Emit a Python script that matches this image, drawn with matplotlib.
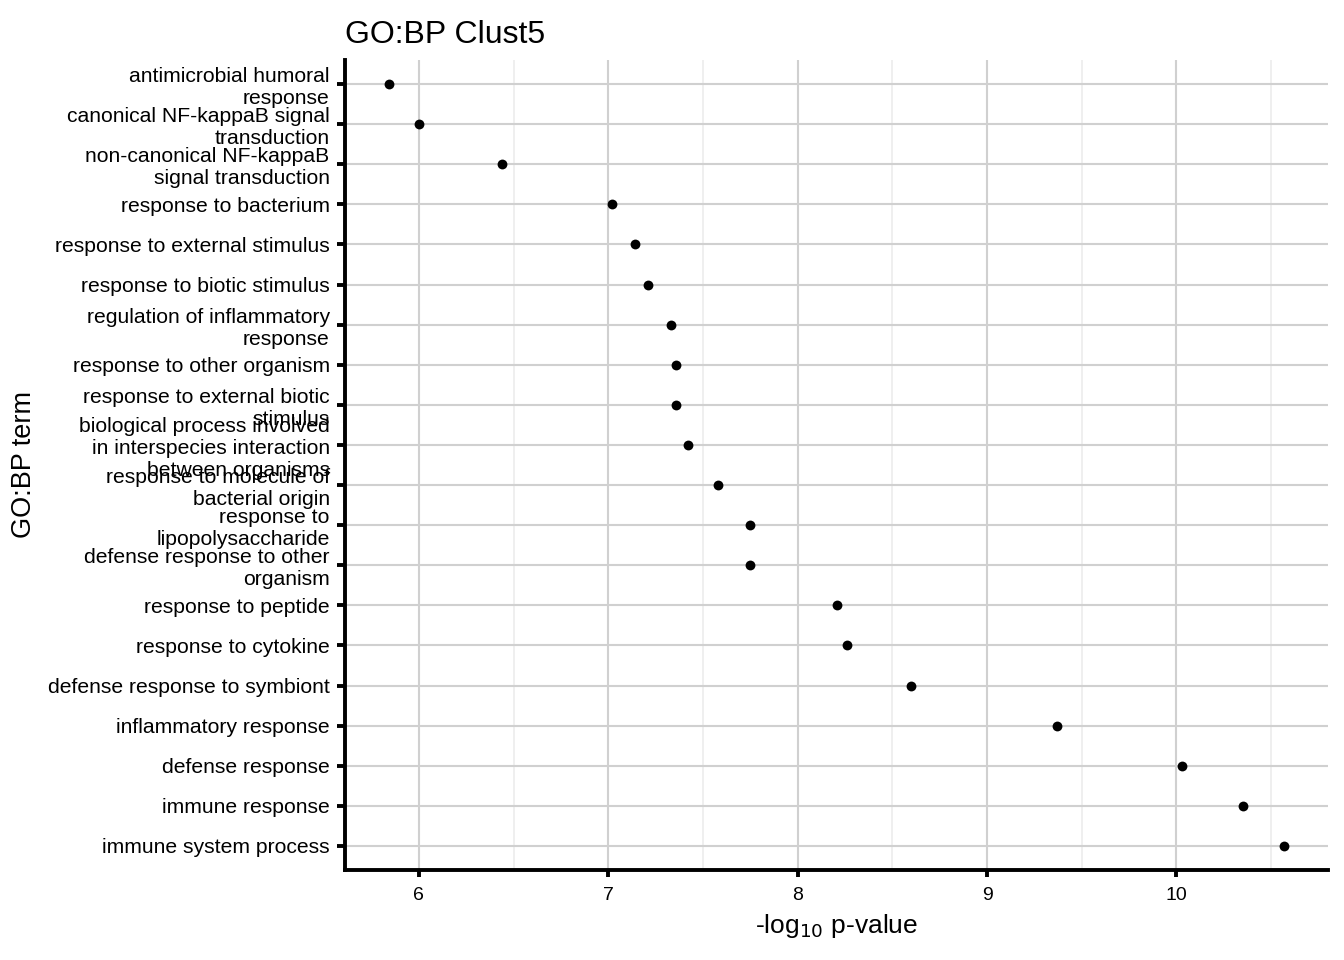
import textwrap
import matplotlib
matplotlib.use("Agg")
import matplotlib.pyplot as plt

plt.rcParams['font.family'] = ['Liberation Sans', 'DejaVu Sans']

# terms top to bottom as shown
terms = [
    "antimicrobial humoral response",
    "canonical NF-kappaB signal transduction",
    "non-canonical NF-kappaB signal transduction",
    "response to bacterium",
    "response to external stimulus",
    "response to biotic stimulus",
    "regulation of inflammatory response",
    "response to other organism",
    "response to external biotic stimulus",
    "biological process involved in interspecies interaction between organisms",
    "response to molecule of bacterial origin",
    "response to lipopolysaccharide",
    "defense response to other organism",
    "response to peptide",
    "response to cytokine",
    "defense response to symbiont",
    "inflammatory response",
    "defense response",
    "immune response",
    "immune system process",
]
neglog_p = [5.84, 6.00, 6.44, 7.02, 7.14, 7.21, 7.33, 7.36, 7.36, 7.42,
            7.58, 7.75, 7.75, 8.21, 8.26, 8.60, 9.37, 10.03, 10.35, 10.57]
xticks = [6, 7, 8, 9, 10]
minor_x = [5.5, 6.5, 7.5, 8.5, 9.5, 10.5]

n = len(terms)
ypos = [n - i for i in range(n)]
labels = [textwrap.fill(t, width=29) for t in terms]

fig = plt.figure(figsize=(13.44, 9.6), dpi=100)
ax = fig.add_axes([0.2567, 0.09375, 0.9881 - 0.2567, 0.9375 - 0.09375])

for m in minor_x:
    ax.axvline(m, color='#ebebeb', lw=1.1, zorder=0)
for t in xticks:
    ax.axvline(t, color='#d0d0d0', lw=1.5, zorder=0)
for y in ypos:
    ax.axhline(y, color='#d0d0d0', lw=1.5, zorder=0)

ax.scatter(neglog_p, ypos, s=50, color='black', zorder=3, linewidths=0)

ax.set_xlim(5.61, 10.80)
ax.set_ylim(0.4, n + 0.6)
ax.set_xticks(xticks)
ax.set_xticklabels([str(t) for t in xticks])
ax.set_yticks(ypos)
ax.set_yticklabels(labels, linespacing=1.2)

for s in ['top', 'right']:
    ax.spines[s].set_visible(False)
for s in ['left', 'bottom']:
    ax.spines[s].set_linewidth(2.8)
    ax.spines[s].set_color('black')

ax.tick_params(axis='y', length=6, width=2.8, pad=5, labelsize=15.2, colors='black')
ax.tick_params(axis='x', length=5, width=2.8, pad=7, labelsize=14, colors='black')

ax.set_xlabel("-log$_{10}$ p-value", fontsize=19, labelpad=6)
ax.set_ylabel("GO:BP term", fontsize=19.5, labelpad=8)
ax.set_title("GO:BP Clust5", fontsize=23, loc='left', pad=12)

fig.savefig("out.png", dpi=100)
